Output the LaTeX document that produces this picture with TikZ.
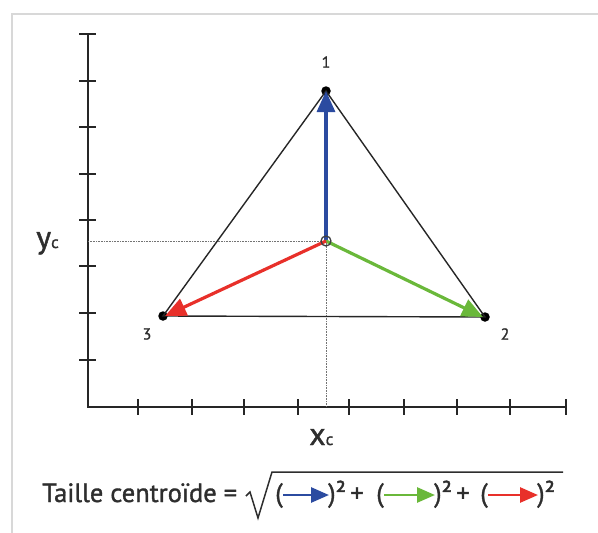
\documentclass[tikz,border=0pt]{standalone}
\usepackage{fontspec}
\setmainfont{PT Sans}[FakeBold=1.3]
\usetikzlibrary{arrows.meta}
\definecolor{vblue}{HTML}{2B4BA0}
\definecolor{vgreen}{HTML}{6AB83A}
\definecolor{vred}{HTML}{E8302A}
\definecolor{txtgray}{HTML}{2E2E2E}
\definecolor{framegray}{HTML}{D8D8D8}
\begin{document}
\begin{tikzpicture}[x=1pt,y=-1pt,
  axisline/.style={line width=2pt,draw=black!85},
  tickmark/.style={line width=1.8pt,draw=black!85},
  guide/.style={densely dotted,line width=0.6pt,draw=black!55},
  edge/.style={line width=1.4pt,draw=black!85},
  vec/.style={line width=3.2pt,-{Triangle[length=21pt,width=18pt]}},
  fvec/.style={line width=2.8pt,-{Triangle[length=18pt,width=15pt]}},
  vdot/.style={circle,fill=black,inner sep=0pt,minimum size=9.5pt},
  lbl/.style={text=txtgray,font=\fontsize{16}{18}\selectfont,inner sep=0pt},
  ftxt/.style={text=txtgray,font=\fontsize{26.5}{30}\selectfont,inner sep=0pt,anchor=base}
]
\useasboundingbox (0,0) rectangle (598,533);
% faint frame
\draw[framegray,line width=1.2pt] (12,533) -- (12,14) -- (598,14);
% axes
\coordinate (O) at (88,407);
\coordinate (Ytop) at (88,34);
\coordinate (Xend) at (567,407);
\draw[axisline] (Ytop) -- (O) -- (Xend);
\foreach \yy in {34,81,127,174,220,266,313,360}
  \draw[tickmark] (79,\yy) -- (96,\yy);
\foreach \xx in {138,192,244,298,349,404,457,510,566}
  \draw[tickmark] (\xx,399) -- (\xx,415);
% vertices
\node[vdot] (v1) at (326,91) {};
\node[vdot] (v2) at (485,317) {};
\node[vdot] (v3) at (163,316) {};
\coordinate (G) at (326,241);
\coordinate (Gy) at (88,241);
\coordinate (Gx) at (326,407);
% guides
\draw[guide] (Gy) -- (G);
\draw[guide] (G) -- (Gx);
% triangle
\draw[edge] (v1.center) -- (v2.center) -- (v3.center) -- cycle;
% vectors
\draw[vec,vblue] (G) -- (v1.center);
\draw[vec,vgreen] (G) -- ([xshift=-2pt]v2.center);
\draw[vec,vred] (G) -- ([xshift=2pt]v3.center);
\node[circle,draw=black!75,line width=1.3pt,fill=none,minimum size=10pt,inner sep=0pt] (gc) at (G) {};
% labels
\node[lbl] (l1) at (326,62) {1};
\node[lbl] (l2) at (505,334) {2};
\node[lbl] (l3) at (147,334) {3};
\node[text=txtgray,inner sep=0pt,anchor=base west] (yc) at (36,248)
  {\fontsize{32}{34}\selectfont y\fontsize{17}{18}\selectfont c};
\node[text=txtgray,inner sep=0pt,anchor=base west] (xc) at (309,445)
  {\fontsize{32}{34}\selectfont x\fontsize{17}{18}\selectfont c};
% formula
\node[ftxt,anchor=base west] (ftitle) at (42,502) {Taille centroïde =};
\draw[line width=1.5pt,txtgray] (246,496) -- (250,492) -- (258,518) -- (272,472) -- (563,472);
\node[ftxt] (p1) at (279,502) {(};
\coordinate (b1s) at (283,495);
\coordinate (b1e) at (329,495);
\draw[fvec,vblue] (b1s) -- (b1e);
\node[ftxt,anchor=base west] (c1) at (328,502) {)²};
\node[ftxt] (plus1) at (357,502) {+};
\node[ftxt] (p2) at (380,502) {(};
\coordinate (b2s) at (384,495);
\coordinate (b2e) at (435,495);
\draw[fvec,vgreen] (b2s) -- (b2e);
\node[ftxt,anchor=base west] (c2) at (434,502) {)²};
\node[ftxt] (plus2) at (463,502) {+};
\node[ftxt] (p3) at (484,502) {(};
\coordinate (b3s) at (488,495);
\coordinate (b3e) at (538,495);
\draw[fvec,vred] (b3s) -- (b3e);
\node[ftxt,anchor=base west] (c3) at (537,502) {)²};
\end{tikzpicture}
\end{document}
